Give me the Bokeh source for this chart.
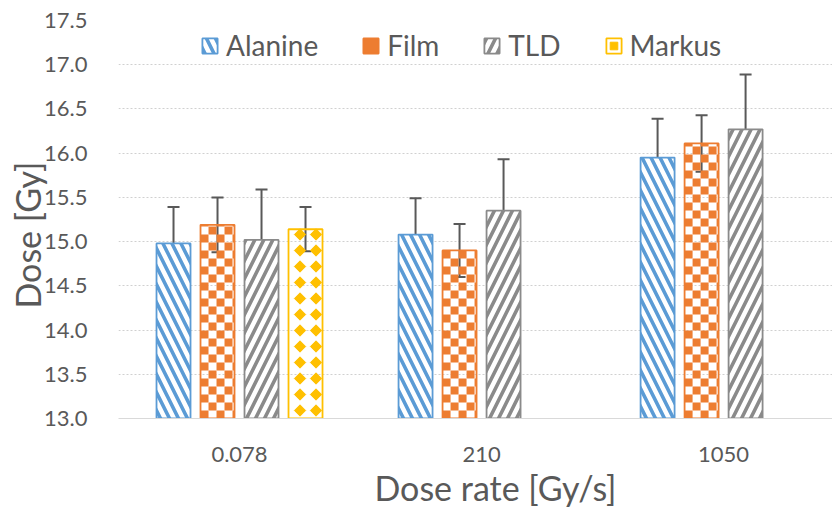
from bokeh.plotting import figure
from bokeh.models import (ColumnDataSource, Range1d, FixedTicker, Whisker, TeeHead,
                          Legend, LegendItem, PrintfTickFormatter, Title)
from bokeh.embed import file_html
from bokeh.resources import INLINE

# ---------------- data ----------------
categories = ["0.078", "210", "1050"]
series_names = ["Alanine", "Film", "TLD", "Markus"]
alanine = [14.98, 15.08, 15.95]
alanine_err = [0.41, 0.41, 0.44]
film = [15.19, 14.90, 16.11]
film_err = [0.31, 0.30, 0.32]
tld = [15.02, 15.35, 16.27]
tld_err = [0.57, 0.58, 0.62]
markus = [15.14, None, None]
markus_err = [0.25, None, None]
y_ticks = [13.0, 13.5, 14.0, 14.5, 15.0, 15.5, 16.0, 16.5, 17.0, 17.5]
x_title = "Dose rate [Gy/s]"
y_title = "Dose [Gy]"

Y0, Y1 = 13.0, 17.5
X0, X1 = 0.0, 2.95

# ---------------- figure ----------------
W, H = 832, 507
BL, BR, BT, BB = 118, 0, 20, 89
p = figure(width=W, height=H, output_backend="svg", toolbar_location=None,
           x_range=Range1d(X0, X1), y_range=Range1d(Y0, Y1),
           min_border_left=BL, min_border_right=BR, min_border_top=BT, min_border_bottom=BB)
p.outline_line_color = None
p.background_fill_color = "white"
p.border_fill_color = "white"

# pixel -> data conversion (frame size)
px_x = (X1 - X0) / (W - BL - BR)
px_y = (Y1 - Y0) / (H - BT - BB)

slot = 44 * px_x
bar_w = 34 * px_x

BLUE, ORANGE, GRAY, YELLOW = "#5B9BD5", "#ED7D31", "#8A8A8A", "#FFC000"
TEXT = "#595959"

all_vals = [alanine, film, tld, markus]
all_errs = [alanine_err, film_err, tld_err, markus_err]

legend_items = []
for j, (name, vals, errs) in enumerate(zip(series_names, all_vals, all_errs)):
    xs, tops, ups, los = [], [], [], []
    for i, (v, e) in enumerate(zip(vals, errs)):
        if v is None:
            continue
        xs.append(i + 0.5 + (j - 1.5) * slot)
        tops.append(v)
        ups.append(v + e)
        los.append(v - e)
    src = ColumnDataSource(dict(x=xs, top=tops, upper=ups, lower=los))
    if name == "Alanine":
        r = p.vbar(x="x", top="top", bottom=Y0, width=bar_w, source=src, fill_color="white",
                   line_color=BLUE, line_width=1.8, hatch_color=BLUE,
                   hatch_pattern="left_diagonal_line", hatch_scale=18, hatch_weight=3.6)
        rs = [r]
    elif name == "TLD":
        r = p.vbar(x="x", top="top", bottom=Y0, width=bar_w, source=src, fill_color="white",
                   line_color=GRAY, line_width=1.8, hatch_color=GRAY,
                   hatch_pattern="right_diagonal_line", hatch_scale=18, hatch_weight=3.6)
        rs = [r]
    elif name == "Film":
        # checkerboard of 8 px squares inside each bar
        sq = 8
        L, R, B, T = [], [], [], []
        for x, top in zip(xs, tops):
            left, right = x - bar_w / 2, x + bar_w / 2
            nr = int((top - Y0) / (sq * px_y)) + 1
            nc = int(bar_w / (sq * px_x)) + 1
            for rr in range(nr):
                for cc in range(nc):
                    if (rr + cc) % 2:
                        continue
                    l = left + cc * sq * px_x
                    b = Y0 + rr * sq * px_y
                    if l >= right or b >= top:
                        continue
                    L.append(l); R.append(min(l + sq * px_x, right))
                    B.append(b); T.append(min(b + sq * px_y, top))
        qsrc = ColumnDataSource(dict(left=L, right=R, bottom=B, top=T))
        q = p.quad(left="left", right="right", bottom="bottom", top="top", source=qsrc,
                   fill_color=ORANGE, line_color=None)
        r = p.vbar(x="x", top="top", bottom=Y0, width=bar_w, source=src, fill_color=None,
                   line_color=ORANGE, line_width=1.8)
        rs = [q, r]
    else:  # Markus: diamond pattern
        per = 16
        DX, DY = [], []
        for x, top in zip(xs, tops):
            yy = Y0 + 8 * px_y
            while yy < top - 3 * px_y:
                for off in (-5.5, 10.5):
                    DX.append(x + off * px_x); DY.append(yy)
                yy += per * px_y
        dsrc = ColumnDataSource(dict(x=DX, y=DY))
        d = p.scatter(x="x", y="y", source=dsrc, marker="square", angle=0.7854, size=8,
                      fill_color=YELLOW, line_color=YELLOW, line_width=1)
        r = p.vbar(x="x", top="top", bottom=Y0, width=bar_w, source=src, fill_color=None,
                   line_color=YELLOW, line_width=1.8)
        rs = [d, r]
    legend_items.append(LegendItem(label=name, renderers=rs))
    w = Whisker(source=src, base="x", upper="upper", lower="lower",
                line_color=TEXT, line_width=2,
                upper_head=TeeHead(size=12, line_color=TEXT, line_width=2),
                lower_head=TeeHead(size=12, line_color=TEXT, line_width=2))
    p.add_layout(w)

# ---------------- axes ----------------
p.xaxis.ticker = FixedTicker(ticks=[i + 0.5 for i in range(len(categories))])
p.xaxis.major_label_overrides = {i + 0.5: c for i, c in enumerate(categories)}
p.yaxis.ticker = FixedTicker(ticks=y_ticks)
p.yaxis.formatter = PrintfTickFormatter(format="%.1f")

for ax in (p.xaxis, p.yaxis):
    ax.major_tick_line_color = None
    ax.minor_tick_line_color = None
    ax.major_label_text_font = "Lato"
    ax.major_label_text_font_size = "22px"
    ax.major_label_text_color = TEXT

p.xaxis.axis_line_color = "#D9D9D9"
p.xaxis.axis_line_width = 1
p.xaxis.major_label_standoff = 22
p.yaxis.axis_line_color = None
p.yaxis.major_label_standoff = 25

p.xgrid.grid_line_color = None
p.ygrid.grid_line_color = "#D0D0D0"
p.ygrid.grid_line_dash = "2 2"
p.ygrid.grid_line_width = 1

# axis titles as side titles (allow horizontal / vertical offset like the reference)
p.add_layout(Title(text=x_title, align="left", offset=256, standoff=0,
                   text_font="Lato", text_font_size="34px", text_font_style="normal",
                   text_color=TEXT), "below")
p.add_layout(Title(text=y_title, align="left", offset=110, standoff=-12,
                   vertical_align="bottom",
                   text_font="Lato", text_font_size="34px", text_font_style="normal",
                   text_color=TEXT), "left")

legend = Legend(items=legend_items, orientation="horizontal", location=(82, 356),
                glyph_width=19, glyph_height=19, label_standoff=7, spacing=43,
                padding=0, margin=0, border_line_color=None, background_fill_alpha=0,
                label_text_font="Lato", label_text_font_size="28px",
                label_text_color=TEXT)
p.add_layout(legend, "center")

open("out.html", "w").write(file_html(p, INLINE))
